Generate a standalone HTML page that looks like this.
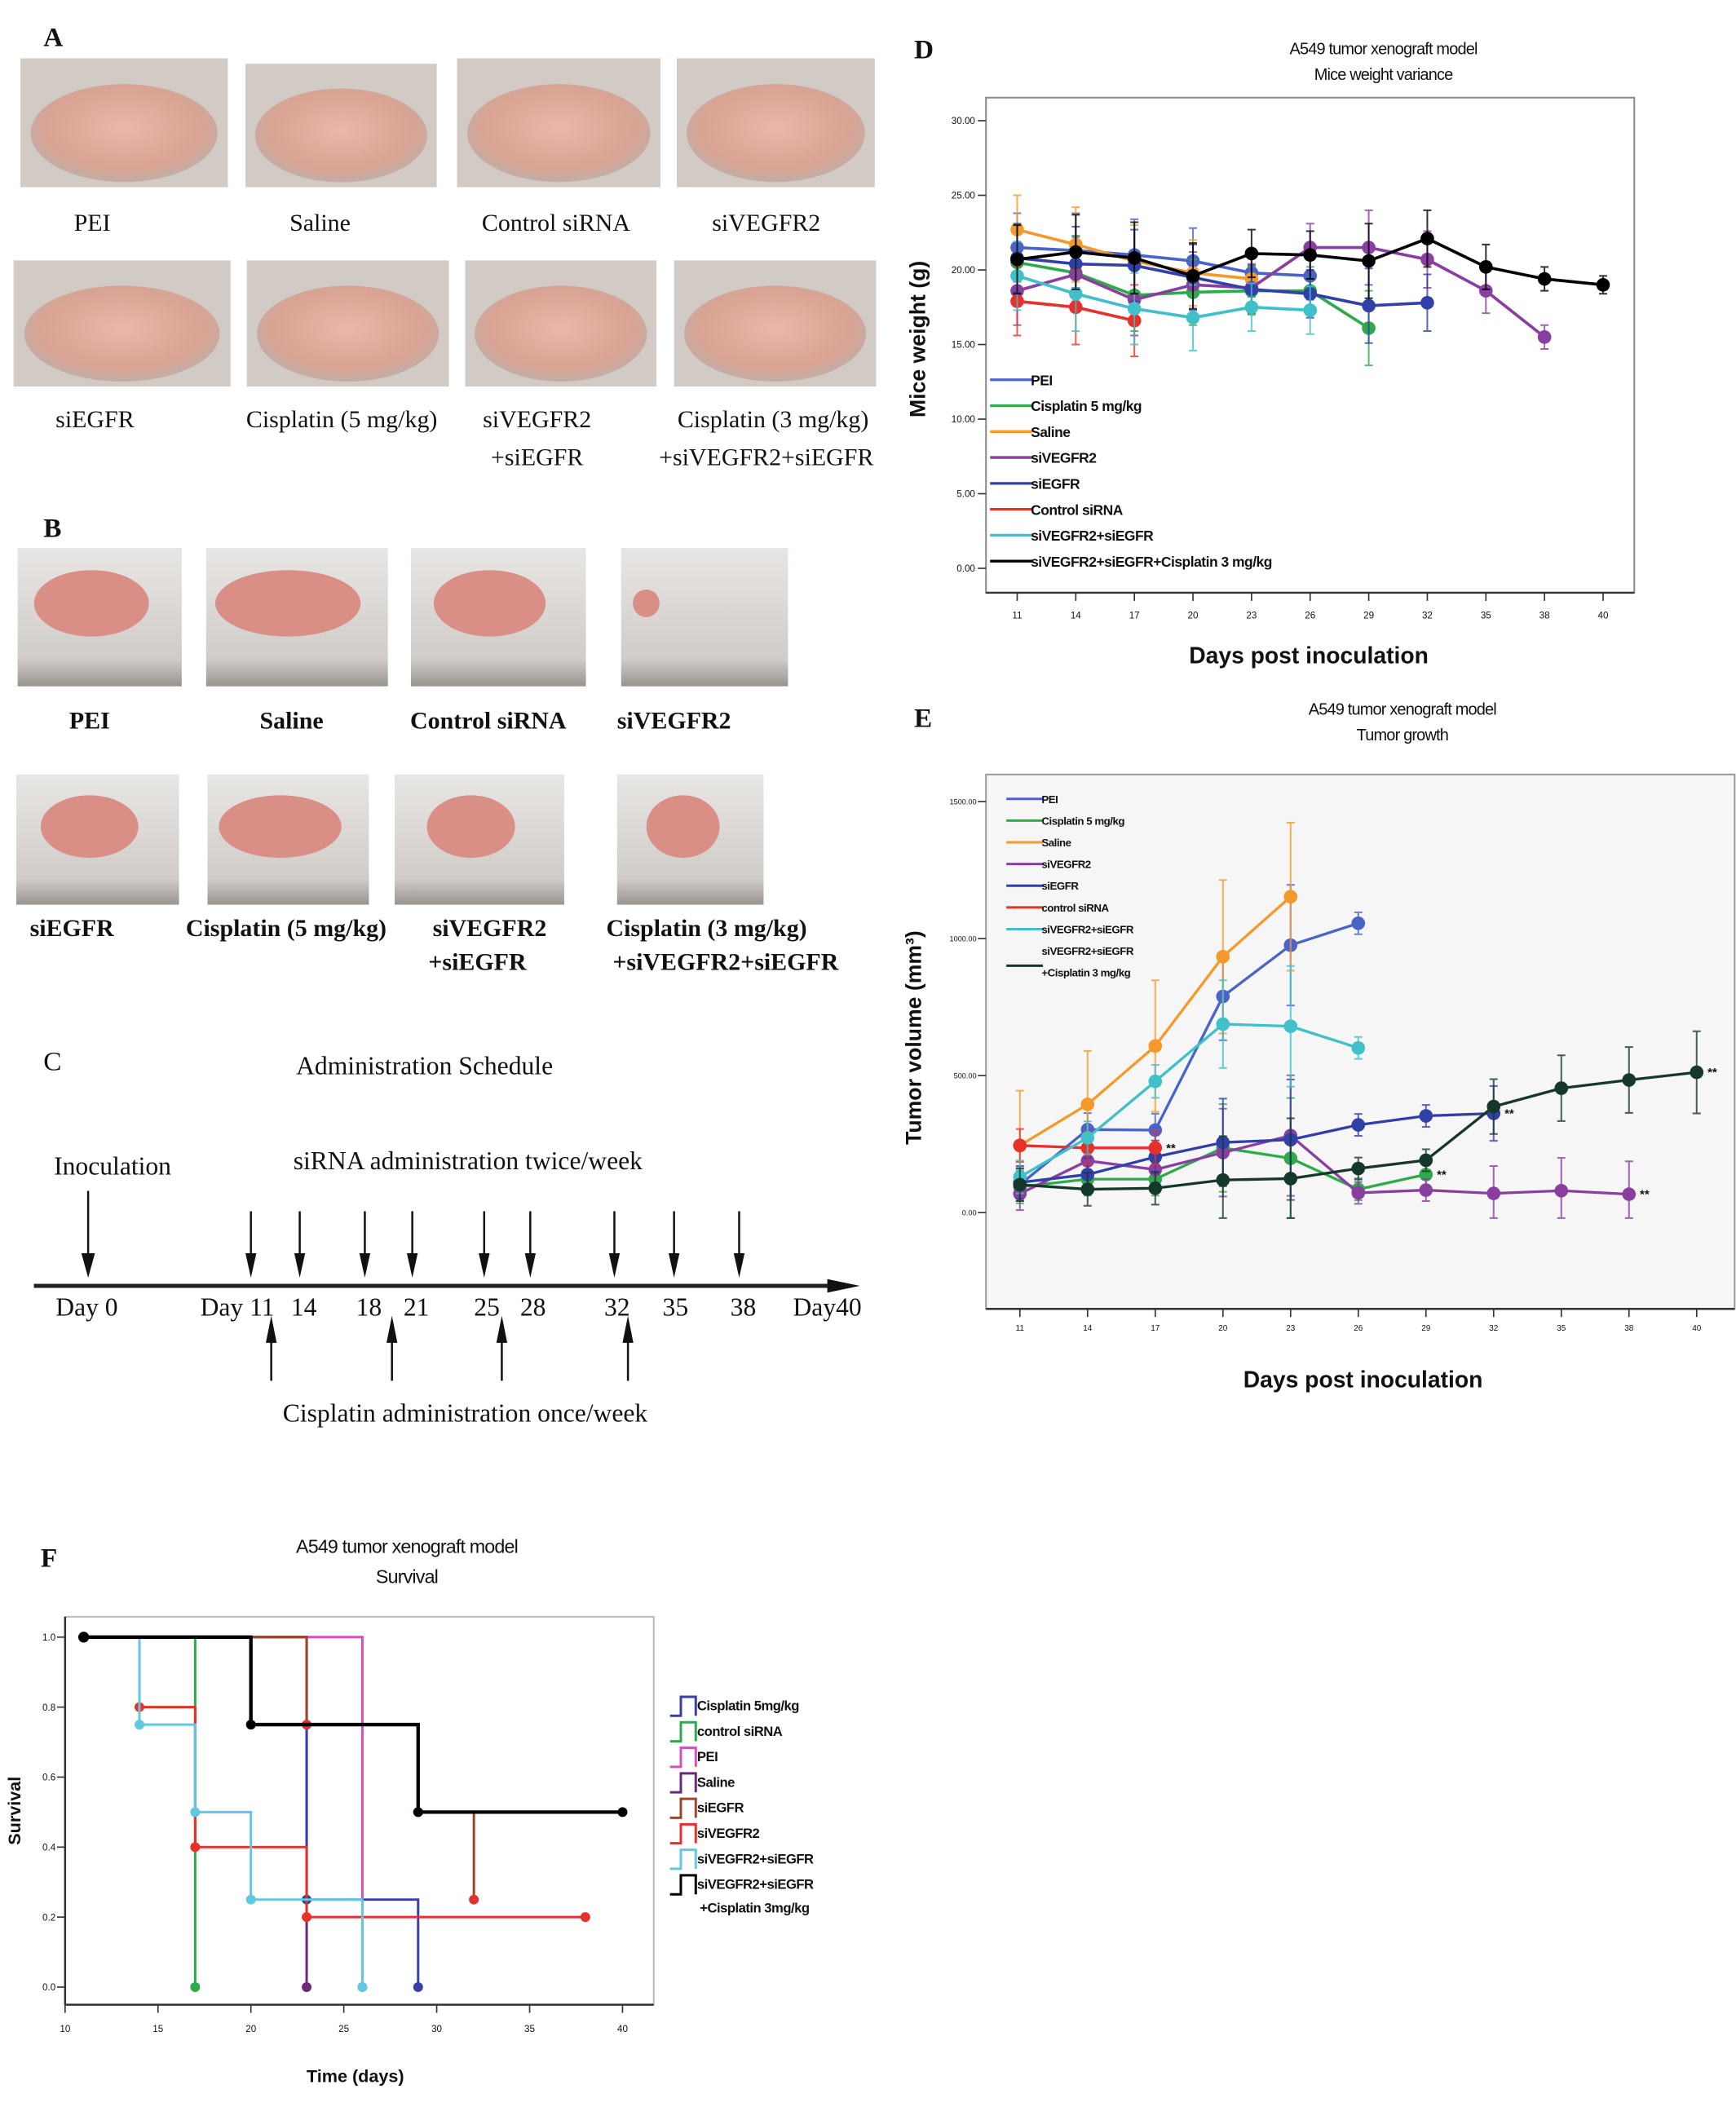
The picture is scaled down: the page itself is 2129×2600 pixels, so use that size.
<!DOCTYPE html>
<html><head><meta charset="utf-8"><style>
html,body{margin:0;padding:0;background:#fff;}
svg{display:block}
.ser{font-family:"Liberation Serif",serif;fill:#111}
.san{font-family:"Liberation Sans",sans-serif;fill:#111}
</style></head><body>
<svg id="fig" width="2129" height="2600" viewBox="0 0 1280 1563" preserveAspectRatio="none" xmlns="http://www.w3.org/2000/svg">
<defs>
<radialGradient id="skin" cx="50%" cy="45%" r="60%"><stop offset="0" stop-color="#e9b7a8"/><stop offset="0.7" stop-color="#d9a393"/><stop offset="1" stop-color="#b9b2ad"/></radialGradient>
<linearGradient id="tray" x1="0" y1="0" x2="0" y2="1"><stop offset="0" stop-color="#e8e6e4"/><stop offset="0.8" stop-color="#d0ccc8"/><stop offset="1" stop-color="#9a948f"/></linearGradient>
</defs>
<g id="panelA"></g>
<g id="panelB"></g>
<g id="panelC"></g>
<g id="chartD"></g>
<g id="chartE"></g>
<g id="chartF"></g>
</svg>
<script>
// ---------- Chart D data ----------
const dDays = ["11","14","17","20","23","26","29","32","35","38","40"];
const dTicks = ["0.00","5.00","10.00","15.00","20.00","25.00","30.00"];
const dLabels = ["PEI","Cisplatin 5 mg/kg","Saline","siVEGFR2","siEGFR","Control siRNA","siVEGFR2+siEGFR","siVEGFR2+siEGFR+Cisplatin 3 mg/kg"];
const dColors = ["#4a63c8","#2eaa4a","#f59a2a","#8a3fa0","#3040a8","#e8302a","#40c0c8","#000000"];
const dPEI = [21.5,21.3,21.0,20.6,19.8,19.6];
const dCis = [20.5,19.8,18.3,18.5,18.6,18.6,16.1];
const dSal = [22.7,21.7,20.6,19.8,19.4];
const dSiV = [18.6,19.7,18.0,19.0,18.8,21.5,21.5,20.7,18.6,15.5];
const dSiE = [20.8,20.4,20.3,19.5,18.7,18.4,17.6,17.8];
const dCtl = [17.9,17.5,16.6];
const dVE = [19.6,18.4,17.4,16.8,17.5,17.3];
const dAll = [20.7,21.2,20.8,19.6,21.1,21.0,20.6,22.1,20.2,19.4,19.0];
const dErr = [2.3,2.5,2.4,2.2,1.6,1.6,2.5,1.9,1.5,0.8,0.6];
// ---------- Chart E data ----------
const eDays = ["11","14","17","20","23","26","29","32","35","38","40"];
const eTicks = ["0.00","500.00","1000.00","1500.00"];
const eLabels = ["PEI","Cisplatin 5 mg/kg","Saline","siVEGFR2","siEGFR","control siRNA","siVEGFR2+siEGFR","siVEGFR2+siEGFR","+Cisplatin 3 mg/kg"];
const eColors = ["#4a63c8","#2eaa4a","#f59a2a","#8a3fa0","#3040a8","#e8302a","#40c0c8","#16382c"];
const ePEI = [102,303,301,789,976,1056];
const eCis = [94,122,122,236,198,85,139];
const eSal = [245,395,608,934,1153];
const eSiV = [69,189,157,219,281,72,82,70,80,67];
const eSiE = [110,139,203,256,266,320,353,362];
const eCtl = [245,236,236];
const eVE = [130,273,479,688,680,601];
const eAll = [102,85,89,119,124,161,191,387,454,484,512];
const eErrSal = [200,195,240,280,270];
const eErrGen = [60,60,60,160,220,40,40,100,120,120,150];
// ---------- Chart F data ----------
const fTicksX = ["10","15","20","25","30","35","40"];
const fTicksY = ["0.0","0.2","0.4","0.6","0.8","1.0"];
const fLabels = ["Cisplatin 5mg/kg","control siRNA","PEI","Saline","siEGFR","siVEGFR2","siVEGFR2+siEGFR","siVEGFR2+siEGFR"];
const fColors = ["#3a3fa8","#2eaa4a","#d94fbf","#6a2a7a","#a0442a","#e8302a","#60c8e0","#000000"];
const fTimes = [[11,23,29],[11,17],[11,26],[11,23],[11,23,29,32],[11,14,17,23,38],[11,14,17,20,26],[11,20,29,40]];
const fSurv = [[1,0.25,0],[1,0],[1,0],[1,0],[1,0.75,0.5,0.25],[1,0.8,0.4,0.2,0.2],[1,0.75,0.5,0.25,0],[1,0.75,0.5,0.5]];

const NS="http://www.w3.org/2000/svg";
function mk(parent,tag,attrs,txt){const el=document.createElementNS(NS,tag);for(const k in attrs)el.setAttribute(k,attrs[k]);if(txt!==undefined)el.textContent=txt;parent.appendChild(el);return el;}

// ---------- Panel A ----------
const A=document.getElementById('panelA');
let t=mk(A,'text',{x:32,y:34,class:'ser','font-size':20,'font-weight':'bold'},'A');


const aPhotos=[[15,43,153,95],[181,47,141,91],[337,43,150,95],[499,43,146,95],[10,192,160,93],[182,192,149,93],[343,192,141,93],[497,192,149,93]];
aPhotos.forEach((p,i)=>{
  const r=mk(A,'rect',{x:p[0],y:p[1],width:p[2],height:p[3],fill:'#d2cac4'});
  
  
  const e=mk(A,'ellipse',{cx:p[0]+p[2]*0.5,cy:p[1]+p[3]*0.58,rx:p[2]*0.45,ry:p[3]*0.38,fill:'url(#skin)'});
  
  
});
const aLab=[[68,170,'PEI'],[236,170,'Saline'],[410,170,'Control siRNA'],[565,170,'siVEGFR2'],[70,315,'siEGFR'],[252,315,'Cisplatin (5 mg/kg)'],[396,315,'siVEGFR2'],[570,315,'Cisplatin (3 mg/kg)'],[396,343,'+siEGFR'],[565,343,'+siVEGFR2+siEGFR']];
aLab.forEach(l=>{t=mk(A,'text',{x:l[0],y:l[1],class:'ser','font-size':18,'text-anchor':'middle'},l[2]);

});

// ---------- Panel B ----------
const B=document.getElementById('panelB');
t=mk(B,'text',{x:32,y:396,class:'ser','font-size':20,'font-weight':'bold'},'B');


const bPhotos=[[13,404,121,102,0.35],[152,404,134,102,0.4],[303,404,129,102,0.32],[458,404,123,102,0.08],[12,571,120,96,0.3],[153,571,119,96,0.38],[291,571,125,96,0.26],[455,571,108,96,0.25]];
bPhotos.forEach(p=>{
  const r=mk(B,'rect',{x:p[0],y:p[1],width:p[2],height:p[3],fill:'url(#tray)'});
  
  
  const e=mk(B,'ellipse',{cx:p[0]+p[2]*(p[4]<0.1?0.15:0.45),cy:p[1]+p[3]*0.4,rx:p[2]*p[4],ry:p[3]*(p[4]<0.1?0.1:0.24),fill:'#d98f86'});
  
  
});
const bLab=[[66,537,'PEI'],[215,537,'Saline'],[360,537,'Control siRNA'],[497,537,'siVEGFR2'],[53,690,'siEGFR'],[211,690,'Cisplatin (5 mg/kg)'],[361,690,'siVEGFR2'],[521,690,'Cisplatin (3 mg/kg)'],[352,715,'+siEGFR'],[535,715,'+siVEGFR2+siEGFR']];
bLab.forEach(l=>{t=mk(B,'text',{x:l[0],y:l[1],class:'ser','font-size':18,'font-weight':'bold','text-anchor':'middle'},l[2]);

});

// ---------- Panel C ----------
const C=document.getElementById('panelC');
const cTexts=[[32,789,'C',20,'start','panel-c-label'],[313,792,'Administration Schedule',19,'middle','schedule-title'],[83,866,'Inoculation',19,'middle','inoculation-label'],[345,862,'siRNA administration twice/week',19,'middle','sirna-label'],[343,1048,'Cisplatin administration once/week',19,'middle','cisplatin-label']];
cTexts.forEach(c=>{t=mk(C,'text',{x:c[0],y:c[1],class:'ser','font-size':c[3],'text-anchor':c[4]},c[2]);

});
let ln=mk(C,'line',{x1:25,y1:948,x2:622,y2:948,stroke:'#222','stroke-width':3});


let pg=mk(C,'polygon',{points:'610,943 634,948 610,953',fill:'#111'});


const cDay=[[64,'Day 0'],[175,'Day 11'],[224,'14'],[272,'18'],[307,'21'],[359,'25'],[393,'28'],[455,'32'],[498,'35'],[548,'38'],[610,'Day40']];
cDay.forEach(d=>{t=mk(C,'text',{x:d[0],y:970,class:'ser','font-size':19,'text-anchor':'middle'},d[1]);

});
function arrowDown(x,y1,y2,w){mk(C,'line',{x1:x,y1:y1,x2:x,y2:y2-10,stroke:'#111','stroke-width':1.5});return mk(C,'polygon',{points:`${x-w},${y2-18} ${x+w},${y2-18} ${x},${y2}`,fill:'#111'});}
let ar=arrowDown(65,878,942,5);


[185,221,269,304,357,391,453,497,545].forEach(x=>{ar=arrowDown(x,893,942,4);

});
[200,289,370,463].forEach(x=>{mk(C,'line',{x1:x,y1:1018,x2:x,y2:982,stroke:'#111','stroke-width':1.5});
ar=mk(C,'polygon',{points:`${x-4},${990} ${x+4},${990} ${x},${970}`,fill:'#111'});

});

// ---------- generic helpers ----------
function errBar(g,x,y1,y2,col){const l=mk(g,'path',{d:`M${x},${y1}V${y2}M${x-3},${y1}H${x+3}M${x-3},${y2}H${x+3}`,stroke:col,'stroke-width':1.2,fill:'none',opacity:0.8});

}

// ---------- Chart D ----------
const D=document.getElementById('chartD');
const xD=i=>750+i*(1182-750)/(dDays.length-1);
const yD=v=>419-v*(330/30);
let fr=mk(D,'rect',{x:727,y:72,width:478,height:365,fill:'#fff',stroke:'#888','stroke-width':1.2});


mk(D,'line',{x1:727,y1:437,x2:1205,y2:437,stroke:'#333','stroke-width':1.5});
dTicks.forEach((s,i)=>{const y=yD(i*5);mk(D,'line',{x1:721,y1:y,x2:727,y2:y,stroke:'#333'});
t=mk(D,'text',{x:719,y:y+2.5,class:'san','font-size':7,'text-anchor':'end'},s);

});
dDays.forEach((s,i)=>{const x=xD(i);mk(D,'line',{x1:x,y1:437,x2:x,y2:443,stroke:'#333'});
t=mk(D,'text',{x:x,y:456,class:'san','font-size':7,'text-anchor':'middle'},s);

});
[[1020,40,'A549 tumor xenograft model'],[1020,59,'Mice weight variance']].forEach(a=>{t=mk(D,'text',{x:a[0],y:a[1],class:'san','font-size':12,'text-anchor':'middle','letter-spacing':-0.5},a[2]);

});
t=mk(D,'text',{x:965,y:489,class:'san','font-size':17,'font-weight':'bold','text-anchor':'middle'},'Days post inoculation');


t=mk(D,'text',{x:0,y:0,class:'san','font-size':16,'font-weight':'bold','text-anchor':'middle',transform:'translate(682,250) rotate(-90)'},'Mice weight (g)');


t=mk(D,'text',{x:674,y:43,class:'ser','font-size':20,'font-weight':'bold'},'D');


[dPEI,dCis,dSal,dSiV,dSiE,dCtl,dVE,dAll].forEach((ser,si)=>{
  const col=dColors[si];
  ser.forEach((v,i)=>errBar(D,xD(i),yD(v+dErr[i]),yD(v-dErr[i]),col));
  const p=mk(D,'polyline',{points:ser.map((v,i)=>xD(i)+','+yD(v)).join(' '),fill:'none',stroke:col,'stroke-width':2.2});
  
  
  ser.forEach((v,i)=>{const c=mk(D,'circle',{cx:xD(i),cy:yD(v),r:5,fill:col});
  
  });
});
dLabels.forEach((s,i)=>{const y=280+i*19.1;mk(D,'line',{x1:730,y1:y,x2:761,y2:y,stroke:dColors[i],'stroke-width':2});
t=mk(D,'text',{x:760,y:y+4,class:'san','font-size':10.5,'font-weight':'bold','letter-spacing':-0.3},s);

});

// ---------- Chart E ----------
const E=document.getElementById('chartE');
const xE=i=>752+i*(1251-752)/(eDays.length-1);
const yE=v=>894-v*(303/1500);
fr=mk(E,'rect',{x:727,y:571,width:552,height:394,fill:'#f6f6f6',stroke:'#999','stroke-width':1.2});


mk(E,'line',{x1:727,y1:965,x2:1279,y2:965,stroke:'#333','stroke-width':1.5});
eTicks.forEach((s,i)=>{const y=yE(i*500);mk(E,'line',{x1:721,y1:y,x2:727,y2:y,stroke:'#333'});
t=mk(E,'text',{x:720,y:y+2,class:'san','font-size':5.5,'text-anchor':'end'},s);

});
eDays.forEach((s,i)=>{const x=xE(i);mk(E,'line',{x1:x,y1:965,x2:x,y2:971,stroke:'#333'});
t=mk(E,'text',{x:x,y:981,class:'san','font-size':6,'text-anchor':'middle'},s);

});
[[1034,527,'A549 tumor xenograft model'],[1034,546,'Tumor growth']].forEach(a=>{t=mk(E,'text',{x:a[0],y:a[1],class:'san','font-size':12,'text-anchor':'middle','letter-spacing':-0.5},a[2]);

});
t=mk(E,'text',{x:1005,y:1023,class:'san','font-size':17,'font-weight':'bold','text-anchor':'middle'},'Days post inoculation');


t=mk(E,'text',{x:0,y:0,class:'san','font-size':16,'font-weight':'bold','text-anchor':'middle',transform:'translate(679,765) rotate(-90)'},'Tumor volume (mm³)');


t=mk(E,'text',{x:674,y:536,class:'ser','font-size':20,'font-weight':'bold'},'E');


[ePEI,eCis,eSal,eSiV,eSiE,eCtl,eVE,eAll].forEach((ser,si)=>{
  const col=eColors[si];
  ser.forEach((v,i)=>{const er=si===2?eErrSal[i]:eErrGen[i];errBar(E,xE(i),yE(v+er),yE(Math.max(v-er,-20)),col);});
  const p=mk(E,'polyline',{points:ser.map((v,i)=>xE(i)+','+yE(v)).join(' '),fill:'none',stroke:col,'stroke-width':2});
  
  
  ser.forEach((v,i)=>{const c=mk(E,'circle',{cx:xE(i),cy:yE(v),r:5,fill:col});
  
  });
});
[[eCtl,2],[eSiE,7],[eCis,6],[eSiV,9],[eAll,10]].forEach(a=>{t=mk(E,'text',{x:xE(a[1])+8,y:yE(a[0][a[1]])+3,class:'san','font-size':9,'font-weight':'bold'},'**');

});
eLabels.forEach((s,i)=>{const y=589+i*16;
if(i!==7){const ly=i===8?y-5:y;mk(E,'line',{x1:742,y1:ly,x2:769,y2:ly,stroke:eColors[Math.min(i,7)],'stroke-width':1.8});}
t=mk(E,'text',{x:768,y:y+3,class:'san','font-size':8,'font-weight':'bold','letter-spacing':-0.3},s);

});

// ---------- Chart F ----------
const F=document.getElementById('chartF');
const xF=v=>48+(v-10)*(411/30);
const yF=s=>1465-s*258;
fr=mk(F,'rect',{x:48,y:1192,width:434,height:286,fill:'#fff',stroke:'#bbb','stroke-width':1.2});


mk(F,'line',{x1:48,y1:1478,x2:482,y2:1478,stroke:'#333','stroke-width':1.5});
mk(F,'line',{x1:48,y1:1192,x2:48,y2:1478,stroke:'#333','stroke-width':1.5});
fTicksY.forEach((s,i)=>{const y=yF(i*0.2);mk(F,'line',{x1:42,y1:y,x2:48,y2:y,stroke:'#333'});
t=mk(F,'text',{x:41,y:y+2.5,class:'san','font-size':7,'text-anchor':'end'},s);

});
fTicksX.forEach((s,i)=>{const x=xF(10+i*5);mk(F,'line',{x1:x,y1:1478,x2:x,y2:1484,stroke:'#333'});
t=mk(F,'text',{x:x,y:1498,class:'san','font-size':7,'text-anchor':'middle'},s);

});
[[300,1145,'A549 tumor xenograft model'],[300,1167,'Survival']].forEach(a=>{t=mk(F,'text',{x:a[0],y:a[1],class:'san','font-size':14,'text-anchor':'middle','letter-spacing':-0.5},a[2]);

});
t=mk(F,'text',{x:262,y:1535,class:'san','font-size':13,'font-weight':'bold','text-anchor':'middle'},'Time (days)');


t=mk(F,'text',{x:0,y:0,class:'san','font-size':13,'font-weight':'bold','text-anchor':'middle',transform:'translate(15,1335) rotate(-90)'},'Survival');


t=mk(F,'text',{x:30,y:1155,class:'ser','font-size':20,'font-weight':'bold'},'F');


const fOrder=[2,1,3,0,5,6,4,7];
fOrder.forEach(si=>{
  const ts=fTimes[si],ss=fSurv[si],col=fColors[si];
  let d=`M${xF(ts[0])},${yF(ss[0])}`;
  for(let k=1;k<ts.length;k++){d+=`H${xF(ts[k])}V${yF(ss[k])}`;}
  const p=mk(F,'path',{d:d,fill:'none',stroke:col,'stroke-width':si===7?2.6:1.8});
  
  
  for(let k=1;k<ts.length;k++){const c=mk(F,'circle',{cx:xF(ts[k]),cy:yF(ss[k]),r:3.6,fill:si===4?'#e03030':col});
  
  }
});
let c0=mk(F,'circle',{cx:xF(11),cy:yF(1),r:4,fill:'#000'});


fLabels.forEach((s,i)=>{const y=1258+i*18.8;
  const pth=mk(F,'path',{d:`M494,${y+7}H502V${y-7}H513V${y+7}`,fill:'none',stroke:fColors[i],'stroke-width':1.8});
  
  
  t=mk(F,'text',{x:514,y:y+3,class:'san','font-size':10,'font-weight':'bold','letter-spacing':-0.3},s);
  
  
});
t=mk(F,'text',{x:516,y:1410,class:'san','font-size':10,'font-weight':'bold','letter-spacing':-0.3},'+Cisplatin 3mg/kg');


</script>
</body></html>
